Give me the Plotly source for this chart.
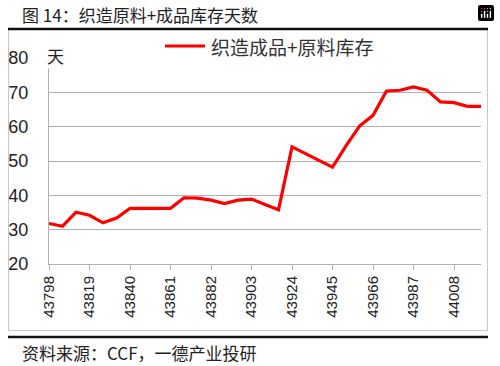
import plotly.graph_objects as go

# Data
dates = list(range(43798, 44022 + 1, 7))
values = [31.8, 31.0, 35.1, 34.2, 32.0, 33.4, 36.2, 36.2, 36.2, 36.2,
          39.3, 39.2, 38.6, 37.6, 38.6, 38.9, 37.3, 35.8, 54.1, 52.2,
          50.2, 48.2, 54.4, 60.2, 63.3, 70.4, 70.6, 71.6, 70.6, 67.2,
          67.0, 65.9, 65.9]
tick_vals = list(range(43798, 44008 + 1, 21))
tick_text = [str(v) for v in tick_vals]
series_name = "织造成品+原料库存"
title_text = "图 14：织造原料+成品库存天数"
source_text = "资料来源：CCF，一德产业投研"
unit_text = "天"

W, H = 500, 366
# plot area in pixels
PL, PR, PT, PB = 49, 481, 58, 264

def px(x):
    return x / W

def py(y):
    return 1 - y / H

CJK = "Noto Sans CJK SC"
NUM = "Liberation Sans"
RED = "#FF0000"

fig = go.Figure()
fig.add_trace(go.Scatter(
    x=dates, y=values, mode="lines", name=series_name,
    line=dict(color=RED, width=3.2), showlegend=False,
))

fig.update_layout(
    width=W, height=H,
    margin=dict(l=0, r=0, t=0, b=0, pad=0, autoexpand=False),
    paper_bgcolor="white", plot_bgcolor="white",
    showlegend=False,
    modebar=dict(bgcolor="rgba(0,0,0,0)", color="rgba(0,0,0,0)",
                 activecolor="rgba(0,0,0,0)"),
    xaxis=dict(
        domain=[px(PL), px(PR)],
        range=[dates[0], dates[-1]],
        tickmode="array", tickvals=tick_vals, ticktext=tick_text,
        tickangle=-90,
        showgrid=False, zeroline=False,
        showline=True, linecolor="#B0B0B0", linewidth=1,
        ticks="outside", ticklen=5, tickcolor="#B0B0B0",
        tickfont=dict(family=NUM, size=15, color="#222222"),
        automargin=False,
    ),
    yaxis=dict(
        domain=[py(PB), py(PT)],
        range=[20, 80], dtick=10, tick0=20,
        showgrid=True, gridcolor="#B0B0B0", gridwidth=1,
        zeroline=False,
        showline=True, linecolor="#B0B0B0", linewidth=1,
        ticks="", ticklabelstandoff=16,
        tickfont=dict(family=NUM, size=18, color="#222222"),
        automargin=False,
    ),
    font=dict(family=CJK),
)

x_l, x_r = px(8.5), px(487.5)
y_t, y_b = py(29), py(330.5)
shapes = [
    # chart frame (left, right, bottom)
    dict(type="line", xref="paper", yref="paper", x0=x_l, x1=x_l, y0=y_b, y1=y_t,
         line=dict(color="#C8C8C8", width=1)),
    dict(type="line", xref="paper", yref="paper", x0=x_r, x1=x_r, y0=y_b, y1=y_t,
         line=dict(color="#C8C8C8", width=1)),
    dict(type="line", xref="paper", yref="paper", x0=x_l, x1=x_r, y0=y_b, y1=y_b,
         line=dict(color="#C8C8C8", width=1)),
    # black rules
    dict(type="line", xref="paper", yref="paper",
         x0=px(8), x1=px(488), y0=py(29), y1=py(29),
         line=dict(color="#111111", width=2.5)),
    dict(type="line", xref="paper", yref="paper",
         x0=px(8), x1=px(488), y0=py(337), y1=py(337),
         line=dict(color="#111111", width=2.5)),
    # legend key line
    dict(type="line", xref="paper", yref="paper",
         x0=px(165), x1=px(205), y0=py(46), y1=py(46),
         line=dict(color=RED, width=3.2)),
]
fig.update_layout(shapes=shapes)

fig.add_annotation(xref="paper", yref="paper", x=px(209), y=py(46),
                   xanchor="left", yanchor="middle", showarrow=False,
                   text=series_name, font=dict(family=CJK, size=19, color="#333333"))
fig.add_annotation(xref="paper", yref="paper", x=px(20), y=py(14),
                   xanchor="left", yanchor="middle", showarrow=False,
                   text=title_text, font=dict(family=CJK, size=17, color="#222222"))
fig.add_annotation(xref="paper", yref="paper", x=px(20), y=py(352),
                   xanchor="left", yanchor="middle", showarrow=False,
                   text=source_text, font=dict(family=CJK, size=17, color="#222222"))
fig.add_annotation(xref="paper", yref="paper", x=px(55), y=py(55),
                   xanchor="center", yanchor="middle", showarrow=False,
                   text=unit_text, bgcolor="white", borderpad=0,
                   font=dict(family=CJK, size=17, color="#222222"))

fig.write_html("out.html",
               post_script="document.body.style.margin='0';document.body.style.padding='0';")
